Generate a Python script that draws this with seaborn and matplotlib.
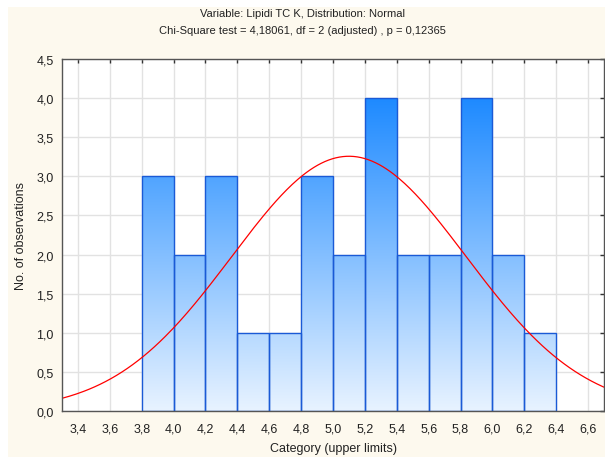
import numpy as np
import pandas as pd
import matplotlib
matplotlib.use("Agg")
import matplotlib.pyplot as plt
import seaborn as sns
from matplotlib.patches import Rectangle

# Data
bin_edges = [3.8, 4.0, 4.2, 4.4, 4.6, 4.8, 5.0, 5.2, 5.4, 5.6, 5.8, 6.0, 6.2, 6.4]
counts = [3, 2, 3, 1, 1, 3, 2, 4, 2, 2, 4, 2, 1]
fit_mean = 5.10
fit_sd = 0.735
n_obs = 30
x_ticks = [3.4, 3.6, 3.8, 4.0, 4.2, 4.4, 4.6, 4.8, 5.0, 5.2, 5.4, 5.6, 5.8, 6.0, 6.2, 6.4, 6.6]
y_ticks = [0.0, 0.5, 1.0, 1.5, 2.0, 2.5, 3.0, 3.5, 4.0, 4.5]

sns.set_style("white")
plt.rcParams['font.family'] = ['Liberation Sans', 'DejaVu Sans']

fig = plt.figure(figsize=(6.05, 4.6), dpi=100, facecolor='white')
fig.patches.append(Rectangle((8/605, 2/460), 597/605, 450/460, transform=fig.transFigure,
                             facecolor='#FDF9EE', edgecolor='none', zorder=-10))
ax = fig.add_axes([62/605, 48/460, 542/605, 352/460])
ax.set_facecolor('white')

mids = [(bin_edges[i] + bin_edges[i+1]) / 2 for i in range(len(counts))]
df = pd.DataFrame({"x": mids, "w": counts})
sns.histplot(data=df, x="x", weights="w", bins=bin_edges, ax=ax,
             fill=True, facecolor='none', edgecolor='#1A5AD6', linewidth=1.0,
             alpha=1.0, zorder=3)

# gradient fill clipped to each bar
top = np.array([30, 138, 255]) / 255.0
bot = np.array([232, 243, 255]) / 255.0
t = np.linspace(0, 1, 256)[:, None]
grad = (bot[None, :] * (1 - t) + top[None, :] * t)[:, None, :]
for p in ax.patches:
    x0 = p.get_x()
    x1 = x0 + p.get_width()
    im = ax.imshow(grad, extent=[x0, x1, 0, 4], origin='lower', aspect='auto',
                   zorder=2, interpolation='bilinear')
    im.set_clip_path(p)
    p.set_facecolor('none')

# normal fit curve
xs = np.linspace(3.3, 6.7, 300)
ys = n_obs * 0.2 / (fit_sd * np.sqrt(2 * np.pi)) * np.exp(-(xs - fit_mean) ** 2 / (2 * fit_sd ** 2))
sns.lineplot(x=xs, y=ys, ax=ax, color='#FF0000', linewidth=0.9, zorder=4)

ax.set_xlim(3.3, 6.7)
ax.set_ylim(0, 4.5)
ax.set_xticks(x_ticks)
ax.set_yticks(y_ticks)
ax.set_xticklabels([f"{v:.1f}".replace('.', ',') for v in x_ticks])
ax.set_yticklabels([f"{v:.1f}".replace('.', ',') for v in y_ticks])
ax.grid(True, color='#E2E2E2', linewidth=1.0, zorder=0)
ax.set_axisbelow(True)
ax.tick_params(direction='in', length=3, width=1, colors='#333333',
               top=True, right=True, labelsize=9, labelcolor='#222222')
ax.tick_params(axis='x', pad=8)
ax.tick_params(axis='y', pad=6)
for s in ax.spines.values():
    s.set_color('#555555')
    s.set_linewidth(1.0)
    s.set_zorder(5)

ax.set_xlabel("Category (upper limits)", fontsize=9, color='#222222', labelpad=6)
ax.set_ylabel("No. of observations", fontsize=9, color='#222222', labelpad=7)
fig.text(0.5, 1 - 14/460, "Variable: Lipidi TC K, Distribution: Normal",
         ha='center', va='center', fontsize=8, color='#222222')
fig.text(0.5, 1 - 31/460, "Chi-Square test = 4,18061, df = 2 (adjusted) , p = 0,12365",
         ha='center', va='center', fontsize=8, color='#222222')

fig.savefig("out.png", dpi=100, facecolor=fig.get_facecolor())
